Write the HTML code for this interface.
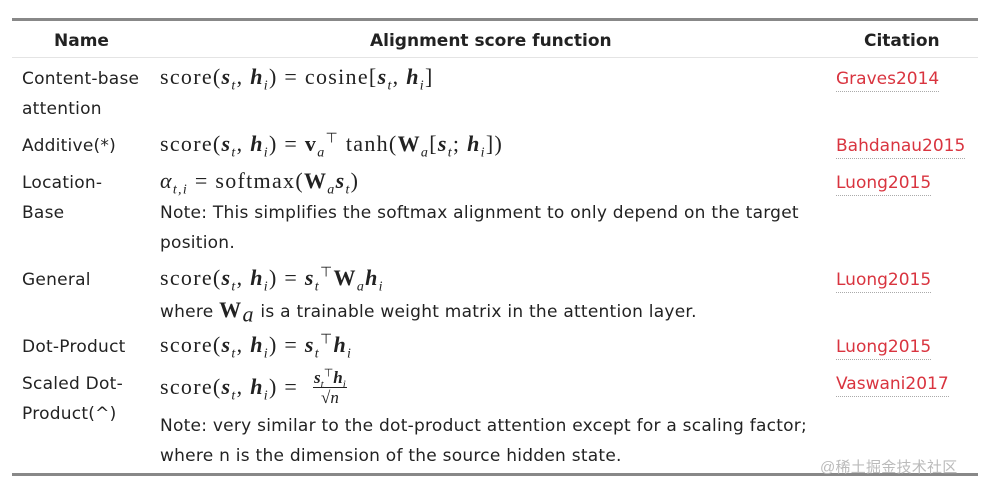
<!DOCTYPE html>
<html><head><meta charset="utf-8"><style>
body{margin:0;width:985px;height:485px;background:#fff;position:relative;overflow:hidden;font-family:"DejaVu Sans",sans-serif;color:#222}
.t{position:absolute;font-size:17px;line-height:20px;white-space:nowrap;letter-spacing:0.25px}
.h{font-weight:bold;font-size:17px;letter-spacing:0}
.m{font-family:"Liberation Serif",serif;font-size:22px;letter-spacing:1.3px}
.c{color:#d9343f;border-bottom:1px dotted #aaa;padding-bottom:2px;letter-spacing:0}
b i{font-weight:bold}
sub,sup{font-size:14px;line-height:0}
.rule{position:absolute;left:12px;width:966px;background:#888}
</style></head><body>
<div class="rule" style="top:18px;height:3px"></div>
<div class="rule" style="top:57px;height:1px;background:#e4e4e4"></div>
<div class="rule" style="top:473px;height:3px"></div>
<div class="t h" style="left:54px;top:31px">Name</div>
<div class="t h" style="left:370px;top:31px">Alignment score function</div>
<div class="t h" style="left:864px;top:31px">Citation</div>

<div class="t" style="left:22px;top:69px">Content-base</div>
<div class="t" style="left:22px;top:99px">attention</div>
<div class="t m" style="left:160px;top:67px">score(<b><i>s</i></b><sub><i>t</i></sub>, <b><i>h</i></b><sub><i>i</i></sub>) = cosine[<b><i>s</i></b><sub><i>t</i></sub>, <b><i>h</i></b><sub><i>i</i></sub>]</div>
<div class="t c" style="left:836px;top:69px">Graves2014</div>

<div class="t" style="left:22px;top:136px">Additive(*)</div>
<div class="t m" style="left:160px;top:134px">score(<b><i>s</i></b><sub><i>t</i></sub>, <b><i>h</i></b><sub><i>i</i></sub>) = <b>v</b><sub><i>a</i></sub><sup>⊤</sup> tanh(<b>W</b><sub><i>a</i></sub>[<b><i>s</i></b><sub><i>t</i></sub>; <b><i>h</i></b><sub><i>i</i></sub>])</div>
<div class="t c" style="left:836px;top:136px">Bahdanau2015</div>

<div class="t" style="left:22px;top:173px">Location-</div>
<div class="t" style="left:22px;top:203px">Base</div>
<div class="t m" style="left:160px;top:171px"><i>α</i><sub><i>t,i</i></sub> = softmax(<b>W</b><sub><i>a</i></sub><b><i>s</i></b><sub><i>t</i></sub>)</div>
<div class="t" style="left:160px;top:203px">Note: This simplifies the softmax alignment to only depend on the target</div>
<div class="t" style="left:160px;top:233px">position.</div>
<div class="t c" style="left:836px;top:173px">Luong2015</div>

<div class="t" style="left:22px;top:270px">General</div>
<div class="t m" style="left:160px;top:268px">score(<b><i>s</i></b><sub><i>t</i></sub>, <b><i>h</i></b><sub><i>i</i></sub>) = <b><i>s</i></b><sub><i>t</i></sub><sup>⊤</sup><b>W</b><sub><i>a</i></sub><b><i>h</i></b><sub><i>i</i></sub></div>
<div class="t" style="left:160px;top:300px">where <b class="m">W</b><sub class="m"><i>a</i></sub> is a trainable weight matrix in the attention layer.</div>
<div class="t c" style="left:836px;top:270px">Luong2015</div>

<div class="t" style="left:22px;top:337px">Dot-Product</div>
<div class="t m" style="left:160px;top:335px">score(<b><i>s</i></b><sub><i>t</i></sub>, <b><i>h</i></b><sub><i>i</i></sub>) = <b><i>s</i></b><sub><i>t</i></sub><sup>⊤</sup><b><i>h</i></b><sub><i>i</i></sub></div>
<div class="t c" style="left:836px;top:337px">Luong2015</div>

<div class="t" style="left:22px;top:374px">Scaled Dot-</div>
<div class="t" style="left:22px;top:404px">Product(^)</div>
<div class="t m" style="left:160px;top:377px">score(<b><i>s</i></b><sub><i>t</i></sub>, <b><i>h</i></b><sub><i>i</i></sub>) =</div>
<div class="t m" style="left:313px;top:368px;font-size:17px;line-height:20px;text-align:center;letter-spacing:0"><span style="border-bottom:1px solid #222;padding:0 1px"><b><i>s</i></b><sub style="font-size:11px"><i>t</i></sub><sup style="font-size:11px">⊤</sup><b><i>h</i></b><sub style="font-size:11px"><i>i</i></sub></span><br>√<i>n</i></div>
<div class="t" style="left:160px;top:416px">Note: very similar to the dot-product attention except for a scaling factor;</div>
<div class="t" style="left:160px;top:446px">where n is the dimension of the source hidden state.</div>
<div class="t c" style="left:836px;top:374px">Vaswani2017</div>
<div class="t" style="left:820px;top:458px;font-size:15px;color:#bbb;font-family:'Liberation Sans','Noto Sans CJK SC',sans-serif">@稀土掘金技术社区</div>
</body></html>
